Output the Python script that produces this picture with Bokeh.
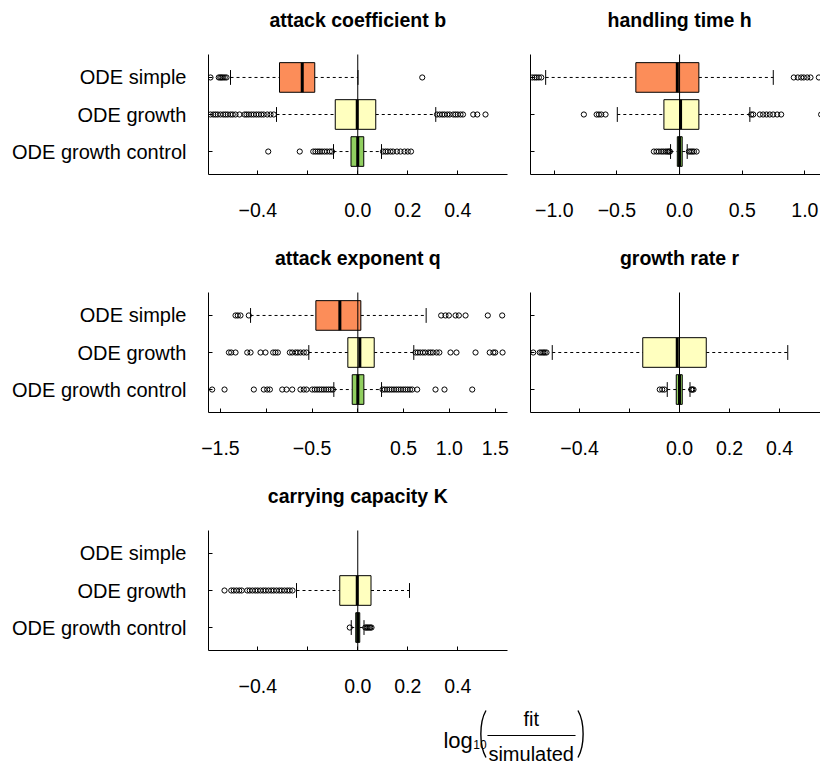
from bokeh.plotting import figure
from bokeh.layouts import column, row
from bokeh.models import Range1d, FixedTicker, ColumnDataSource
from bokeh.embed import file_html
from bokeh.resources import INLINE
from bokeh.core.properties import value

NaN = float("nan")

categories = ["ODE simple", "ODE growth", "ODE growth control"]
fill_colors = ["#FC8D59", "#FFFFBF", "#91CF60"]

# ---- attack coefficient b ----
b_q1 = [-0.313, -0.090, -0.027]
b_med = [-0.222, -0.002, 0.000]
b_q3 = [-0.172, 0.072, 0.024]
b_lo = [-0.509, -0.325, -0.097]
b_hi = [0.001, 0.312, 0.095]
b_out_simple = [-0.589, -0.556, -0.550, -0.545, -0.539, -0.532, -0.525, 0.258]
b_out_growth = [-0.589, -0.578, -0.569, -0.560, -0.549, -0.538, -0.529, -0.520, -0.509,
                -0.500, -0.489, -0.473, -0.453, -0.445, -0.436, -0.426, -0.416, -0.406,
                -0.396, -0.386, -0.376, -0.362, -0.349, -0.336,
                0.317, 0.328, 0.338, 0.347, 0.358, 0.368, 0.382, 0.391, 0.400, 0.411,
                0.421, 0.462, 0.478, 0.511]
b_out_control = [-0.358, -0.232, -0.178, -0.169, -0.160, -0.152, -0.143, -0.133, -0.123,
                 -0.112, -0.103, 0.101, 0.111, 0.120, 0.131, 0.141, 0.157, 0.171, 0.187,
                 0.200, 0.213]

# ---- handling time h ----
h_q1 = [-0.349, -0.125, -0.018]
h_med = [-0.018, 0.008, 0.000]
h_q3 = [0.154, 0.154, 0.021]
h_lo = [-1.069, -0.497, -0.072]
h_hi = [0.748, 0.561, 0.061]
h_out_simple = [-1.176, -1.157, -1.141, -1.123, -1.104, 0.912, 0.944, 0.971, 0.992, 1.019,
                1.045, 1.112]
h_out_growth = [-0.764, -0.662, -0.644, -0.625, -0.591, 0.572, 0.588, 0.641, 0.667, 0.694,
                0.720, 0.747, 0.779, 0.811, 1.130]
h_out_control = [-0.205, -0.184, -0.165, -0.146, -0.130, -0.112, -0.098, -0.085, -0.077,
                 0.074, 0.088, 0.101, 0.115, 0.136]

# ---- attack exponent q ----
q_q1 = [-0.458, -0.109, -0.061]
q_med = [-0.196, 0.022, 0.000]
q_q3 = [0.033, 0.179, 0.066]
q_lo = [-1.171, -0.535, -0.262]
q_hi = [0.746, 0.611, 0.259]
q_out_simple = [-1.335, -1.310, -1.281, -1.190, 0.910, 0.957, 0.994, 1.067, 1.103, 1.176,
                1.419, 1.576]
q_out_growth = [-1.407, -1.382, -1.335, -1.207, -1.171, -1.062, -1.008, -0.924, -0.899,
                -0.873, -0.742, -0.716, -0.680, -0.655, -0.626, -0.590, -0.560,
                0.630, 0.655, 0.680, 0.710, 0.735, 0.770, 0.795, 0.820, 0.860, 0.890,
                1.012, 1.077, 1.285, 1.440, 1.480, 1.500, 1.580]
q_out_control = [-1.590, -1.455, -1.135, -1.026, -0.989, -0.960, -0.825, -0.778, -0.716,
                 -0.626, -0.590, -0.560, -0.498, -0.470, -0.445, -0.420, -0.395, -0.370,
                 -0.345, -0.320, -0.295, -0.272,
                 0.270, 0.295, 0.320, 0.345, 0.370, 0.395, 0.420, 0.445, 0.470, 0.495,
                 0.520, 0.545, 0.570, 0.594, 0.648, 0.848, 0.946, 1.249]

# ---- growth rate r ----
r_q1 = [NaN, -0.147, -0.013]
r_med = [NaN, -0.009, 0.000]
r_q3 = [NaN, 0.107, 0.011]
r_lo = [NaN, -0.509, -0.049]
r_hi = [NaN, 0.433, 0.042]
r_out_simple = []
r_out_growth = [-0.585, -0.559, -0.552, -0.545, -0.539, -0.532]
r_out_control = [-0.079, -0.069, -0.060, 0.047, 0.051, 0.056]

# ---- carrying capacity K ----
k_q1 = [NaN, -0.072, -0.008]
k_med = [NaN, -0.002, 0.000]
k_q3 = [NaN, 0.053, 0.008]
k_lo = [NaN, -0.245, -0.026]
k_hi = [NaN, 0.207, 0.025]
k_out_simple = []
k_out_growth = [-0.533, -0.506, -0.496, -0.485, -0.474, -0.464, -0.442, -0.432, -0.421,
                -0.410, -0.400, -0.389, -0.378, -0.368, -0.357, -0.346, -0.336, -0.325,
                -0.314, -0.304, -0.293, -0.282, -0.272, -0.261]
k_out_control = [-0.032, 0.030, 0.035, 0.040, 0.045, 0.050, 0.055]

ticks_fine = [-0.4, -0.2, 0.0, 0.2, 0.4]
labels_fine = ["\u22120.4", "", "0.0", "0.2", "0.4"]
ticks_h = [-1.0, -0.5, 0.0, 0.5, 1.0]
labels_h = ["\u22121.0", "\u22120.5", "0.0", "0.5", "1.0"]
ticks_q = [-1.5, -1.0, -0.5, 0.0, 0.5, 1.0, 1.5]
labels_q = ["\u22121.5", "", "\u22120.5", "", "0.5", "1.0", "1.5"]

FONT = "Liberation Sans"
FS_TICK = "19.5px"
FS_CAT = "20px"
FS_TITLE = "19.5px"
TOP = 54          # pixels above the box area (title zone)
BOX_H = 120       # pixel height of the box area
TITLE_RISE = 35   # pixels from box-area top to title baseline
Y0, Y1 = 0.38, 3.62
PX = BOX_H / (Y1 - Y0)


def make_panel(title, q1, med, q3, lo, hi, outs, xlim, ticks, tick_labels,
               show_ylab, width, height, bl, br):
    ytop = Y1 + TOP / PX
    p = figure(width=width, height=height, output_backend="svg", toolbar_location=None,
               x_range=Range1d(*xlim), y_range=Range1d(Y0, ytop),
               min_border_left=bl, min_border_right=br,
               min_border_top=0, min_border_bottom=height - TOP - BOX_H)
    p.grid.visible = False
    p.outline_line_color = None
    p.background_fill_color = "white"
    p.border_fill_color = "white"

    # panel title inside the upper zone
    p.text(x=[0], y=[Y1 + TITLE_RISE / PX], text=[title], text_font=value(FONT),
           text_font_size=value(FS_TITLE), text_font_style="bold", text_align="center",
           text_baseline="alphabetic", text_color="black")

    ys = [3, 2, 1]
    rows = [i for i in range(3) if q1[i] == q1[i]]
    src = ColumnDataSource(dict(
        y=[ys[i] for i in rows],
        ylo=[ys[i] - 0.4 for i in rows], yhi=[ys[i] + 0.4 for i in rows],
        slo=[ys[i] - 0.2 for i in rows], shi=[ys[i] + 0.2 for i in rows],
        q1=[q1[i] for i in rows], med=[med[i] for i in rows], q3=[q3[i] for i in rows],
        lo=[lo[i] for i in rows], hi=[hi[i] for i in rows],
        color=[fill_colors[i] for i in rows]))
    p.segment(x0="lo", y0="y", x1="q1", y1="y", line_dash="3 3", line_color="black",
              line_width=1, source=src)
    p.segment(x0="q3", y0="y", x1="hi", y1="y", line_dash="3 3", line_color="black",
              line_width=1, source=src)
    p.segment(x0="lo", y0="slo", x1="lo", y1="shi", line_color="black", line_width=1, source=src)
    p.segment(x0="hi", y0="slo", x1="hi", y1="shi", line_color="black", line_width=1, source=src)
    p.hbar(y="y", left="q1", right="q3", height=0.8, fill_color="color",
           line_color="black", line_width=1, source=src)
    p.segment(x0="med", y0="ylo", x1="med", y1="yhi", line_color="black", line_width=3,
              source=src)
    ox, oy = [], []
    for i, o in enumerate(outs):
        ox += list(o)
        oy += [ys[i]] * len(o)
    p.scatter(ox, oy, marker="circle", size=5.2, fill_color=None, line_color="black",
              line_width=1)
    # reference line at zero over the box area
    p.segment(x0=[0], y0=[Y0], x1=[0], y1=[Y1], line_color="black", line_width=1)

    p.xaxis.ticker = FixedTicker(ticks=ticks)
    p.xaxis.major_label_overrides = dict(zip(ticks, tick_labels))
    p.yaxis.ticker = FixedTicker(ticks=ys)
    p.yaxis.bounds = (Y0, Y1)
    if show_ylab:
        p.yaxis.major_label_overrides = dict(zip(ys, categories))
        p.yaxis.major_label_standoff = 22
    else:
        p.yaxis.major_label_overrides = {y: "" for y in ys}
        p.yaxis.major_label_text_font_size = "0px"
        p.yaxis.major_label_standoff = 0
    for ax in p.axis:
        ax.axis_line_color = "black"
        ax.axis_line_width = 1
        ax.major_tick_line_color = "black"
        ax.major_tick_in = 4
        ax.major_tick_out = 0
        ax.minor_tick_in = 0
        ax.minor_tick_out = 0
        ax.major_label_text_font = FONT
        ax.major_label_text_color = "black"
    if show_ylab:
        p.yaxis.major_label_text_font_size = FS_CAT
    p.xaxis.major_label_text_font_size = FS_TICK
    p.xaxis.major_label_standoff = 28
    return p


p1 = make_panel("attack coefficient b", b_q1, b_med, b_q3, b_lo, b_hi,
                [b_out_simple, b_out_growth, b_out_control], (-0.597, 0.599),
                ticks_fine, labels_fine, True, 520, 238, 208, 13)
p2 = make_panel("handling time h", h_q1, h_med, h_q3, h_lo, h_hi,
                [h_out_simple, h_out_growth, h_out_control], (-1.19, 1.125),
                ticks_h, labels_h, False, 300, 238, 10, 0)
p3 = make_panel("attack exponent q", q_q1, q_med, q_q3, q_lo, q_hi,
                [q_out_simple, q_out_growth, q_out_control], (-1.63, 1.634),
                ticks_q, labels_q, True, 520, 238, 208, 13)
p4 = make_panel("growth rate r", r_q1, r_med, r_q3, r_lo, r_hi,
                [r_out_simple, r_out_growth, r_out_control], (-0.596, 0.564),
                ticks_fine, labels_fine, False, 300, 238, 10, 0)
p5 = make_panel("carrying capacity K", k_q1, k_med, k_q3, k_lo, k_hi,
                [k_out_simple, k_out_growth, k_out_control], (-0.597, 0.599),
                ticks_fine, labels_fine, True, 520, 224, 208, 13)

# axis label: log10(fit / simulated), drawn in a strip whose data units are pixels
pf = figure(width=820, height=64, output_backend="svg", toolbar_location=None,
            x_range=Range1d(208, 820), y_range=Range1d(0, 64),
            x_axis_type=None, y_axis_type=None,
            min_border_left=208, min_border_right=0, min_border_top=0, min_border_bottom=0)
pf.grid.visible = False
pf.outline_line_color = None
pf.text(x=[448], y=[24], text=["log"], text_font=value(FONT), text_font_size=value("22px"),
        text_align="left", text_baseline="alphabetic", text_color="black")
pf.text(x=[478.5], y=[20], text=["10"], text_font=value(FONT), text_font_size=value("12px"),
        text_align="left", text_baseline="alphabetic", text_color="black")
pf.text(x=[537.7, 537.7], y=[46, 11], text=["fit", "simulated"], text_font=value(FONT),
        text_font_size=value("20px"), text_align="center", text_baseline="alphabetic",
        text_color="black")
pf.segment(x0=[493], y0=[29], x1=[583], y1=[29], line_color="black", line_width=1)
pf.bezier(x0=[491.5, 585.5], y0=[54, 54], x1=[491.5, 585.5], y1=[7, 7],
          cx0=[484.5, 592.5], cy0=[42, 42], cx1=[484.5, 592.5], cy1=[19, 19],
          line_color="black", line_width=1.4)

layout = column(row(p1, p2), row(p3, p4), p5, pf)

with open("out.html", "w") as f:
    f.write(file_html(layout, INLINE))
